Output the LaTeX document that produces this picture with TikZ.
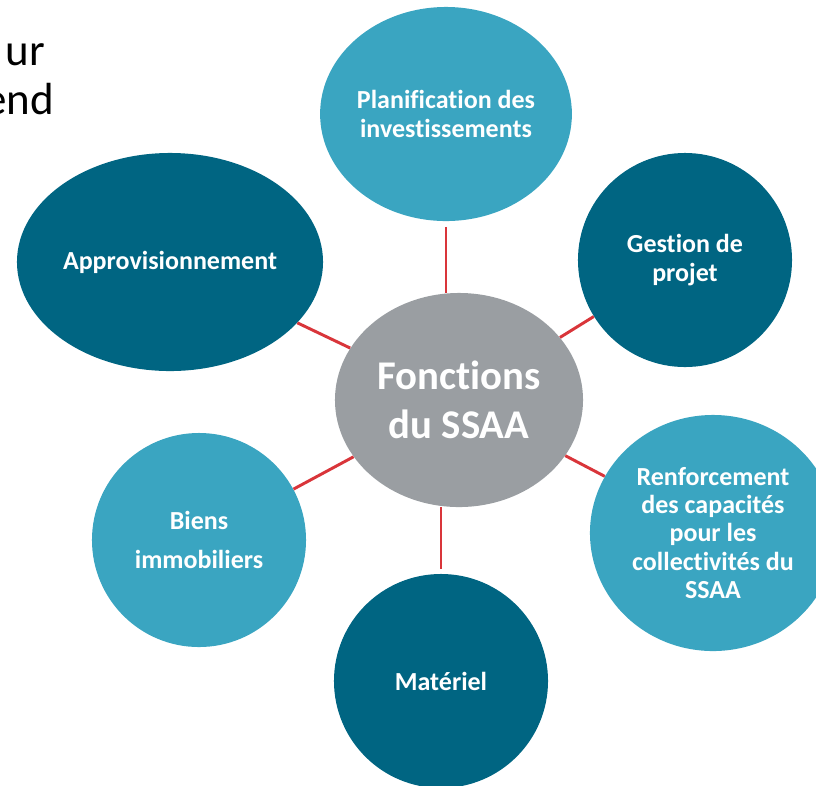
\documentclass[tikz,border=0pt]{standalone}
\usepackage{fontspec}
\setmainfont[Ligatures={NoCommon}]{Carlito}
\usepackage{tikz}
\usetikzlibrary{shapes.geometric}

\definecolor{lightteal}{RGB}{58,165,193}
\definecolor{darkteal}{RGB}{0,101,130}
\definecolor{hubgrey}{RGB}{154,158,162}
\definecolor{spokered}{RGB}{217,53,58}

\tikzset{
  bubble/.style={ellipse, inner sep=0pt, text=white, align=center,
    font=\bfseries\fontsize{18.5}{20}\selectfont},
  light/.style={bubble, fill=lightteal},
  dark/.style={bubble, fill=darkteal},
  spoke/.style={draw=spokered, line width=2.1pt}
}

\begin{document}
\begin{tikzpicture}[x=0.025cm, y=-0.025cm]
  \useasboundingbox (0,0) rectangle (816,785);
  \clip (0,0) rectangle (816,785);

  % Cut-off page text
  \node[anchor=base east, inner sep=0pt, font=\fontsize{32}{38}\selectfont] (ur) at (45,65) {ur};
  \node[anchor=base east, inner sep=0pt, font=\fontsize{32}{38}\selectfont] (end) at (54,114) {end};

  % Hub
  \node[bubble, fill=hubgrey, minimum width=6.2cm, minimum height=5.35cm,
    font=\bfseries\fontsize{29}{35}\selectfont] (fonct) at (459,400) {Fonctions\\du SSAA};

  % Outer bubbles
  \node[light, minimum width=6.15cm, minimum height=5.35cm] (plan) at (446,114) {Planification des\\investissements};
  \node[dark, minimum width=7.65cm, minimum height=5.45cm] (appro) at (170,262) {Approvisionnement};
  \node[dark, minimum width=5.35cm, minimum height=5.35cm] (gest) at (685,260) {Gestion de\\projet};
  \node[light, minimum width=6.15cm, minimum height=5.9cm] (renf) at (713,533) {Renforcement\\des capacités\\pour les\\collectivités du\\SSAA};
  \node[light, minimum width=5.35cm, minimum height=5.35cm] (biens) at (199,540) {Biens\\[8pt]immobiliers};
  \node[dark, minimum width=5.35cm, minimum height=5.35cm] (mat) at (441,681) {Matériel};

  % Spokes
  \draw[spoke, shorten <=4pt] (plan.south) -- (plan.south |- fonct.north);
  \draw[spoke, shorten >=3pt] (mat.north |- fonct.south) -- (mat.north);
  \draw[spoke] (appro) -- (fonct);
  \draw[spoke] (gest) -- (fonct);
  \draw[spoke] (biens) -- (fonct);
  \draw[spoke] (renf) -- (fonct);
\end{tikzpicture}
\end{document}
